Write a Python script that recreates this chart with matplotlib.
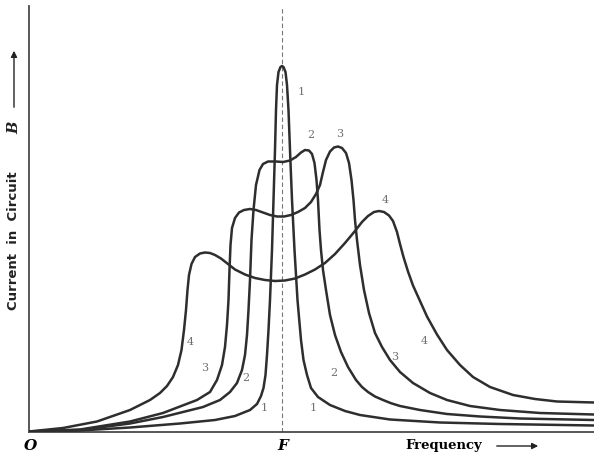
import matplotlib
matplotlib.use("Agg")
import matplotlib.pyplot as plt

# Frequency (O = 0, resonance F = 253) and current in circuit B, arbitrary units
F_FREQ = 253

c1_x = [0, 51, 101, 151, 186, 206, 221, 228, 232, 234.5, 236.5, 238, 239.5, 241, 243, 244.5, 246, 247, 248,
        249.5, 251.5, 253, 254.5, 256.5, 258, 259.5, 261, 263, 265.5, 268.5, 272, 274.5, 278, 282, 289, 301,
        316, 331, 361, 411, 471, 565]
c1_y = [0, 1, 4, 8, 11.5, 15.5, 21.5, 27.5, 35.5, 43.5, 56.5, 76.5, 101.5, 131.5, 181.5, 231.5, 281.5, 321.5,
        346.5, 359.5, 364.5, 365.5, 364.5, 359.5, 346.5, 321.5, 281.5, 231.5, 181.5, 131.5, 91.5, 71.5, 56.5,
        43.5, 34.5, 26.5, 20.5, 16.5, 12, 9, 7.5, 6]

c2_x = [0, 51, 101, 134, 174, 191, 201, 208, 213, 216, 218, 219.5, 221, 222.5, 224.5, 227, 230.5, 234, 239,
        247, 254, 261, 267, 272, 276, 280, 283, 285.5, 287.5, 289, 290.5, 292, 294, 297, 301, 306, 312, 319,
        327, 333, 339, 346, 354, 362, 371, 391, 418, 451, 491, 565]
c2_y = [0, 1.5, 8, 14.5, 24.5, 31.5, 39.5, 48.5, 61.5, 76.5, 96.5, 121.5, 151.5, 191.5, 221.5, 246.5, 261.5,
        267.5, 270, 270, 269.5, 271, 274.5, 279, 281.5, 281, 277.5, 268.5, 251.5, 231.5, 201.5, 181.5, 161.5,
        141.5, 116.5, 96.5, 79.5, 64.5, 51.5, 44.5, 39.5, 35, 31.5, 28.3, 25.5, 21.5, 17.5, 15, 13, 11.5]

c3_x = [0, 51, 101, 134, 168, 181, 188, 193, 196, 198, 199.5, 200.5, 201.5, 203, 206, 210, 215, 221, 227, 234,
        241, 248, 255, 262, 269, 276, 282, 287, 291, 294, 297, 301, 305, 309, 313, 317, 320, 322.5, 324.5,
        326, 328, 331, 335, 340, 346, 353, 361, 371, 384, 401, 418, 441, 471, 511, 565]
c3_y = [0, 2, 10, 18.5, 31.5, 39.5, 51.5, 66.5, 84.5, 106.5, 131.5, 161.5, 186.5, 203.5, 213.5, 219, 221.5,
        222.5, 221.5, 219, 216.5, 215, 215, 216.5, 219.5, 223.5, 229.5, 237.5, 246.5, 259.5, 271.5, 280, 284,
        285, 283.5, 278.5, 268.5, 251.5, 231.5, 211.5, 191.5, 166.5, 141.5, 118.5, 98.5, 84.5, 71.5, 59.5,
        48.5, 38.5, 31.5, 25.5, 21.5, 18.5, 17]

c4_x = [0, 34, 68, 101, 121, 131, 138, 144, 149, 152.5, 155, 157, 158.5, 160, 162.5, 166, 171, 176, 181, 186,
        192, 199, 206, 216, 226, 236, 246, 256, 266, 276, 286, 296, 306, 316, 326, 333, 339, 345, 350, 355,
        360, 364, 368, 371, 374.5, 379, 384, 391, 398, 408, 418, 431, 444, 461, 484, 506, 528, 565]
c4_y = [0, 3.5, 10, 21.5, 31.5, 38.5, 45.5, 54.5, 66.5, 81.5, 101.5, 121.5, 141.5, 156.5, 167.5, 174.5, 178,
        179, 178.5, 176.5, 173, 167.5, 162, 157, 153.5, 151.5, 150.5, 151, 153, 157, 162, 168.5, 177.5, 188.5,
        200.5, 209.5, 215.5, 219.5, 220.5, 219.5, 216, 210.5, 199.5, 187.5, 174.5, 160, 146, 130.5, 115,
        97, 81.5, 66.5, 54.5, 44.5, 36.5, 32.5, 30, 29]

curves = [(c1_x, c1_y), (c2_x, c2_y), (c3_x, c3_y), (c4_x, c4_y)]
curve_names = ["1", "2", "3", "4"]

W, H = 594, 457
fig = plt.figure(figsize=(W / 100, H / 100), dpi=100)
fig.patch.set_facecolor("white")
ax = fig.add_axes([29 / W, 25.5 / H, 565 / W, 425.5 / H])
ax.set_xlim(0, 565)
ax.set_ylim(0, 425.5)
ax.set_facecolor("white")
for s in ["top", "right"]:
    ax.spines[s].set_visible(False)
for s in ["left", "bottom"]:
    ax.spines[s].set_color("#4a4a4a")
    ax.spines[s].set_linewidth(1.3)
ax.set_xticks([])
ax.set_yticks([])

ax.axvline(F_FREQ, color="#777777", lw=0.8, dashes=(4, 2.5), zorder=1)

for x, y in curves:
    ax.plot(x, y, color="#2e2e2e", lw=1.8, solid_capstyle="round", solid_joinstyle="round", zorder=3)

# curve numbers
lab_style = dict(fontsize=8, color="#707070", family="DejaVu Serif", ha="center", va="center")
label_pos = {
    "1": [(235, 23.5), (284, 23.5), (272, 339.5)],
    "2": [(217, 53.5), (305, 58.5), (282, 296.5)],
    "3": [(176, 63.5), (366, 74.5), (311, 297.5)],
    "4": [(161, 89.5), (395, 90.5), (356, 231.5)],
}
for name in curve_names:
    for (lx, ly) in label_pos[name]:
        ax.text(lx, ly, name, **lab_style)

# axis annotations
ax.text(1, -14.5, "O", fontsize=11, fontweight="bold", fontstyle="italic", family="DejaVu Serif",
        ha="center", va="center", clip_on=False)
ax.text(F_FREQ + 1, -14.5, "F", fontsize=11, fontweight="bold", fontstyle="italic", family="DejaVu Serif",
        ha="center", va="center", clip_on=False)
ax.text(376, -14.5, "Frequency", fontsize=9.5, fontweight="bold", family="DejaVu Serif",
        ha="left", va="center", clip_on=False)
ax.annotate("", xy=(512, -14.5), xytext=(465, -14.5), xycoords="data",
            arrowprops=dict(arrowstyle="-|>", color="#222222", lw=1.0, mutation_scale=9),
            annotation_clip=False)

fig.text(14 / W, 1 - 241 / H, "Current  in  Circuit", rotation=90, fontsize=9.5, fontweight="bold",
         family="DejaVu Sans", ha="center", va="center", color="#222222")
fig.text(14 / W, 1 - 128 / H, "B", rotation=90, fontsize=10.5, fontweight="bold", fontstyle="italic",
         family="DejaVu Serif", ha="center", va="center", color="#222222")
ax.annotate("", xy=(14 / W, 1 - 48 / H), xytext=(14 / W, 1 - 110 / H), xycoords="figure fraction",
            arrowprops=dict(arrowstyle="-|>", color="#222222", lw=1.0, mutation_scale=9),
            annotation_clip=False)

fig.savefig("out.png", dpi=100, facecolor="white")
